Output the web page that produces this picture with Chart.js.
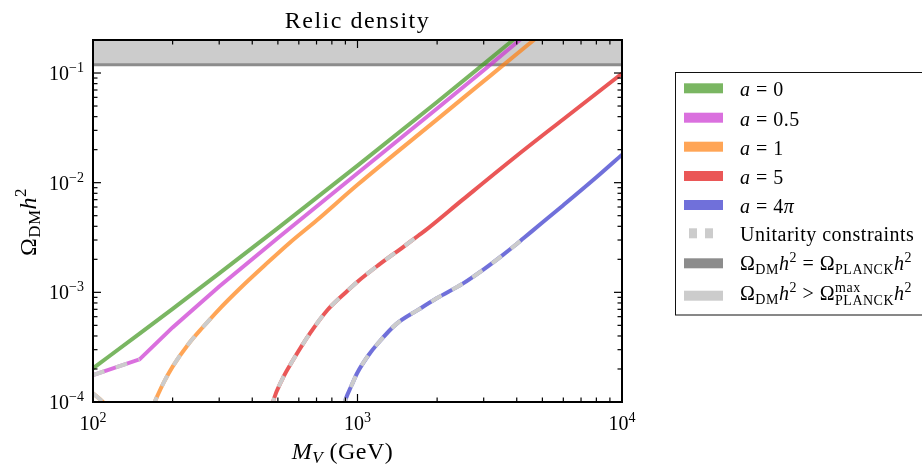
<!doctype html>
<html lang="en">
<head>
<meta charset="utf-8">
<meta name="viewport" content="width=device-width, initial-scale=1">
<title>Relic density</title>
<style>
  html, body { margin: 0; padding: 0; background: #fff; }
  body { width: 922px; height: 464px; overflow: hidden; }
  canvas { display: block; }
</style>
</head>
<body>
<canvas id="relic" width="922" height="464"></canvas>
<script src="https://cdn.jsdelivr.net/npm/chart.js@4.4.1/dist/chart.umd.min.js"></script>
<script>
// M_V in GeV and Omega_DM h^2
const massA0 = [100, 150, 200, 300, 500, 1000, 2000, 3000, 4000];
const omegaA0 = [2.03e-4, 4.2e-4, 7.08e-4, 1.49e-3, 3.85e-3, 1.43e-2, 5.44e-2, 0.1205, 0.213];

const massA05 = [100, 150, 200, 300, 500, 1000, 2000, 3000, 4000, 4500];
const omegaA05 = [1.76e-4, 2.45e-4, 4.79e-4, 1.13e-3, 3.13e-3, 1.22e-2, 4.74e-2, 0.106, 0.19, 0.24];

const massA1 = [100, 109, 113, 140, 167, 171, 185, 200, 230, 260, 298, 360, 450, 556, 700, 1000, 2000, 3000, 4000, 5000];
const omegaA1 = [1.2e-4, 1.0e-4, 9.0e-5, null, 8.8e-5, 1.0e-4, 1.5e-4, 2.1e-4, 3.4e-4, 4.8e-4, 6.9e-4, 1.09e-3, 1.8e-3, 2.85e-3, 4.52e-3, 9.57e-3, 3.78e-2, 8.43e-2, 0.149, 0.232];

const massA5 = [472, 480, 520, 570, 660, 770, 900, 1000, 1200, 1500, 1700, 1800, 2500, 4000, 6000, 10000];
const omegaA5 = [8.5e-5, 1.02e-4, 1.62e-4, 2.4e-4, 4.2e-4, 6.9e-4, 9.93e-4, 1.25e-3, 1.77e-3, 2.63e-3, 3.3e-3, 3.65e-3, 7.0e-3, 1.76e-2, 3.79e-2, 9.9e-2];

const massA4pi = [880, 897, 950, 1000, 1100, 1200, 1400, 1700, 2000, 2500, 3000, 3500, 3900, 4240, 5000, 6000, 8000, 10000];
const omegaA4pi = [8.5e-5, 1.02e-4, 1.42e-4, 1.86e-4, 2.67e-4, 3.47e-4, 5.13e-4, 6.95e-4, 8.87e-4, 1.2e-3, 1.62e-3, 2.14e-3, 2.63e-3, 3.11e-3, 4.33e-3, 6.23e-3, 1.12e-2, 1.8e-2];

// unitarity is violated below these masses (dashed grey part)
const unitarityA05 = 150;
const unitarityA1 = 298;
const unitarityA5 = 1700;
const unitarityA4pi = 4240;

const planckOmega = 0.1188;
const excludedTop = 1;
const bandMass = [100, 10000];

const xMajor = [100, 1000, 10000];
const xTickExp = ['2', '3', '4'];
const yMajor = [1e-4, 1e-3, 1e-2, 1e-1];
const yTickExp = ['\u22124', '\u22123', '\u22122', '\u22121'];

const colA0 = 'rgba(65,151,31,0.7)';
const colA05 = 'rgba(202,51,208,0.7)';
const colA1 = 'rgba(255,127,14,0.7)';
const colA5 = 'rgba(225,16,16,0.7)';
const colA4pi = 'rgba(51,51,202,0.7)';
const greyDash = 'rgb(204,204,204)';
const planckCol = 'rgb(140,140,140)';
const bandCol = 'rgb(204,204,204)';

const serif = '"Liberation Serif", "DejaVu Serif", serif';

function toPoints(mass, omega) {
    return mass.map((m, i) => ({ x: m, y: omega[i] }));
}

function curve(label, mass, omega, color, smooth) {
    return {
        label: label,
        data: toPoints(mass, omega),
        showLine: true,
        borderColor: color,
        borderWidth: 4,
        pointRadius: 0,
        cubicInterpolationMode: smooth ? 'monotone' : 'default',
        tension: 0,
        spanGaps: false,
        clip: 0,
        order: 2
    };
}

// grey dashes drawn over the part of a curve below the unitarity limit
function unitarity(mass, omega, limit, smooth) {
    const m = mass.filter(v => v <= limit);
    return {
        label: 'Unitarity constraints',
        data: toPoints(m, omega.slice(0, m.length)),
        showLine: true,
        borderColor: greyDash,
        borderWidth: 4,
        borderDash: [12, 12],
        pointRadius: 0,
        cubicInterpolationMode: smooth ? 'monotone' : 'default',
        tension: 0,
        spanGaps: false,
        clip: 0,
        order: 1
    };
}

function font(size, style) {
    return (style ? style + ' ' : '') + size + 'px ' + serif;
}

// runs: [text, size, style, dy, 'stack']
function drawRuns(ctx, runs, x, y, align) {
    const widths = runs.map(r => { ctx.font = font(r[1], r[2]); return ctx.measureText(r[0]).width; });
    let pending = 0;
    const adv = runs.map((r, i) => {
        if (r[4] === 'stack') { pending = widths[i]; return 0; }
        const a = Math.max(widths[i], pending);
        pending = 0;
        return a;
    });
    const total = adv.reduce((s, a) => s + a, 0);
    let cx = align === 'center' ? x - total / 2 : align === 'right' ? x - total : x;
    runs.forEach((r, i) => {
        ctx.font = font(r[1], r[2]);
        ctx.fillText(r[0], cx, y + (r[3] || 0));
        cx += adv[i];
    });
}

const axesPlugin = {
    id: 'mplAxes',
    afterDatasetsDraw(chart) {
        const ctx = chart.ctx;
        const a = chart.chartArea;
        const x = chart.scales.x;
        const y = chart.scales.y;
        ctx.save();
        ctx.strokeStyle = '#000';
        ctx.fillStyle = '#000';
        ctx.lineWidth = 1.2;
        const tick = (x1, y1, x2, y2) => {
            ctx.beginPath(); ctx.moveTo(x1, y1); ctx.lineTo(x2, y2); ctx.stroke();
        };
        // ticks point inward on all four sides
        xMajor.forEach((d, i) => {
            for (let k = 1; k <= 9; k++) {
                const v = d * k;
                if (v > x.max || (k > 1 && i === xMajor.length - 1)) continue;
                const len = k === 1 ? 8 : 4.5;
                const px = x.getPixelForValue(v);
                tick(px, a.bottom, px, a.bottom - len);
                tick(px, a.top, px, a.top + len);
            }
        });
        yMajor.forEach(d => {
            for (let k = 1; k <= 9; k++) {
                const v = d * k;
                if (v >= y.max) continue;
                const len = k === 1 ? 8 : 4.5;
                const py = y.getPixelForValue(v);
                tick(a.left, py, a.left + len, py);
                tick(a.right, py, a.right - len, py);
            }
        });
        ctx.lineWidth = 2;
        ctx.strokeRect(a.left, a.top, a.right - a.left, a.bottom - a.top);

        ctx.textAlign = 'left';
        ctx.textBaseline = 'alphabetic';
        xMajor.forEach((v, i) => {
            drawRuns(ctx, [['10', 20], [xTickExp[i], 14, '', -8]], x.getPixelForValue(v), a.bottom + 28, 'center');
        });
        yMajor.forEach((v, i) => {
            drawRuns(ctx, [['10', 20], [yTickExp[i], 14, '', -8]], a.left - 9, y.getPixelForValue(v) + 7, 'right');
        });
        ctx.restore();
    },
    afterDraw(chart) {
        const ctx = chart.ctx;
        const a = chart.chartArea;
        ctx.save();
        ctx.fillStyle = '#000';
        ctx.textAlign = 'left';
        ctx.textBaseline = 'alphabetic';

        // title
        ctx.letterSpacing = '1.5px';
        drawRuns(ctx, [['Relic density', 24]], (a.left + a.right) / 2, 28, 'center');
        ctx.letterSpacing = '0.5px';

        // x label
        drawRuns(ctx, [['M', 24, 'italic'], ['V', 17, 'italic', 4], [' (GeV)', 24]], 342.5, 459, 'center');

        // y label
        ctx.save();
        ctx.translate(36, 222);
        ctx.rotate(-Math.PI / 2);
        drawRuns(ctx, [['\u03A9', 24], ['DM', 17, '', 4], ['h', 24, 'italic'], ['2', 17, '', -10]], 0, 0, 'center');
        ctx.restore();

        // legend
        ctx.strokeStyle = '#111';
        ctx.lineWidth = 1;
        ctx.strokeRect(675.5, 72.5, 262, 242.5);
        const rows = [
            [colA0, [['a', 20, 'italic'], [' = 0', 20]], 88.3, 8],
            [colA05, [['a', 20, 'italic'], [' = 0.5', 20]], 117.7, 8],
            [colA1, [['a', 20, 'italic'], [' = 1', 20]], 146.7, 8],
            [colA5, [['a', 20, 'italic'], [' = 5', 20]], 176, 8],
            [colA4pi, [['a', 20, 'italic'], [' = 4', 20], ['\u03C0', 20, 'italic']], 205, 8],
            ['dash', [['Unitarity constraints', 20]], 233.3, 8],
            [planckCol, [['\u03A9', 20], ['DM', 14, '', 4], ['h', 20, 'italic'], ['2', 14, '', -8], [' = \u03A9', 20],
                ['PLANCK', 14, '', 4], ['h', 20, 'italic'], ['2', 14, '', -8]], 263.3, 6.5],
            [bandCol, [['\u03A9', 20], ['DM', 14, '', 4], ['h', 20, 'italic'], ['2', 14, '', -8], [' > \u03A9', 20],
                ['max', 14, '', -8, 'stack'], ['PLANCK', 14, '', 5], ['h', 20, 'italic'], ['2', 14, '', -8]], 295.7, 4.5]
        ];
        rows.forEach(r => {
            const cy = r[2];
            if (r[0] === 'dash') {
                ctx.fillStyle = greyDash;
                ctx.fillRect(689, cy - 5, 8, 10);
                ctx.fillRect(705, cy - 5, 8, 10);
            } else {
                ctx.fillStyle = r[0];
                ctx.fillRect(684, cy - 5, 39, 10);
            }
            ctx.fillStyle = '#000';
            drawRuns(ctx, r[1], 740, cy + r[3], 'left');
        });
        ctx.restore();
    }
};

const datasets = [
    {
        label: 'excluded',
        data: toPoints(bandMass, [excludedTop, excludedTop]),
        showLine: true,
        borderColor: 'rgba(0,0,0,0)',
        borderWidth: 0,
        pointRadius: 0,
        backgroundColor: bandCol,
        fill: { value: planckOmega },
        clip: 0,
        order: 4
    },
    {
        label: 'Planck',
        data: toPoints(bandMass, [planckOmega, planckOmega]),
        showLine: true,
        borderColor: planckCol,
        borderWidth: 3,
        pointRadius: 0,
        clip: 0,
        order: 3
    },
    curve('a = 0', massA0, omegaA0, colA0, true),
    curve('a = 0.5', massA05, omegaA05, colA05, false),
    curve('a = 1', massA1, omegaA1, colA1, true),
    curve('a = 5', massA5, omegaA5, colA5, true),
    curve('a = 4\u03C0', massA4pi, omegaA4pi, colA4pi, true),
    unitarity(massA05, omegaA05, unitarityA05, false),
    unitarity(massA1, omegaA1, unitarityA1, true),
    unitarity(massA5, omegaA5, unitarityA5, true),
    unitarity(massA4pi, omegaA4pi, unitarityA4pi, true)
];

new Chart(document.getElementById('relic'), {
    type: 'scatter',
    data: { datasets: datasets },
    options: {
        responsive: false,
        animation: false,
        devicePixelRatio: 1,
        events: [],
        layout: { padding: { left: 93, right: 300, top: 40, bottom: 62 } },
        plugins: {
            legend: { display: false },
            tooltip: { enabled: false },
            title: { display: false }
        },
        scales: {
            x: { type: 'logarithmic', min: 100, max: 10000, display: false },
            y: { type: 'logarithmic', min: 1e-4, max: 0.2, display: false }
        }
    },
    plugins: [axesPlugin]
});
</script>
</body>
</html>
